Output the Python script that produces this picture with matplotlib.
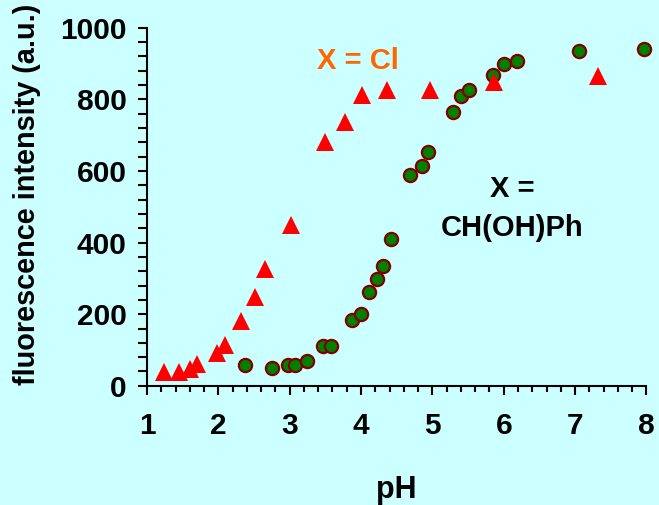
import matplotlib
matplotlib.use('Agg')
import matplotlib.pyplot as plt
from matplotlib.ticker import MultipleLocator

# X = Cl (triangles)
ph_cl = [1.24, 1.45, 1.60, 1.70, 1.98, 2.10, 2.32, 2.52, 2.66, 3.02,
         3.50, 3.78, 4.01, 4.37, 4.96, 5.86, 7.32]
int_cl = [39, 39, 47, 62, 92, 115, 181, 248, 326, 449,
          682, 738, 811, 827, 827, 849, 866]

# X = CH(OH)Ph (circles)
ph_ph = [2.38, 2.75, 2.97, 3.08, 3.24, 3.47, 3.58, 3.88, 4.00, 4.11,
         4.22, 4.31, 4.42, 4.68, 4.85, 4.94, 5.29, 5.40, 5.51, 5.85,
         6.00, 6.19, 7.06, 7.97]
int_ph = [57, 50, 57, 57, 68, 112, 112, 185, 200, 261,
          298, 335, 409, 590, 614, 652, 764, 809, 825, 869,
          898, 906, 936, 942]

bg = '#ccffff'
plt.rcParams['font.family'] = ['Liberation Sans', 'DejaVu Sans']
plt.rcParams['font.weight'] = 'bold'

fig = plt.figure(figsize=(6.59, 5.05), dpi=100, facecolor=bg)
ax = fig.add_axes([0.223, 0.236, 0.758, 0.709], facecolor=bg)

ax.plot(ph_ph, int_ph, 'o', ms=9.5, mfc='#008000', mec='#800000', mew=1.6,
        clip_on=False, zorder=3)
ax.plot(ph_cl, int_cl, '^', ms=13, mfc='#ff0000', mec='#ff0000', mew=0,
        clip_on=False, zorder=4)

ax.set_xlim(1, 8)
ax.set_ylim(0, 1000)
ax.xaxis.set_major_locator(MultipleLocator(1))
ax.xaxis.set_minor_locator(MultipleLocator(0.2))
ax.yaxis.set_major_locator(MultipleLocator(200))
ax.yaxis.set_minor_locator(MultipleLocator(40))

for s in ['top', 'right']:
    ax.spines[s].set_visible(False)
for s in ['left', 'bottom']:
    ax.spines[s].set_linewidth(1.5)

ax.tick_params(axis='both', which='major', direction='out', width=1.5,
               length=6.5, labelsize=21.5)
ax.tick_params(axis='x', which='major', pad=12)
ax.tick_params(axis='y', which='major', pad=8)
ax.tick_params(axis='x', which='minor', direction='out', width=1.5, length=4)
ax.tick_params(axis='y', which='minor', direction='out', width=1.5, length=6.5)

ax.set_xlabel('pH', fontsize=22, fontweight='bold')
ax.set_ylabel('fluorescence intensity (a.u.)', fontsize=20.8, fontweight='bold')
ax.xaxis.set_label_coords(0.5, -0.25)
ax.yaxis.set_label_coords(-0.213, 0.535)

ax.text(3.95, 908, 'X = Cl', color='#ff6600', fontsize=21,
        fontweight='bold', ha='center', va='center')
ax.text(6.12, 549, 'X =', color='black', fontsize=21,
        fontweight='bold', ha='center', va='center')
ax.text(6.12, 442, 'CH(OH)Ph', color='black', fontsize=21,
        fontweight='bold', ha='center', va='center')

plt.savefig('out.png', dpi=100, facecolor=bg)
